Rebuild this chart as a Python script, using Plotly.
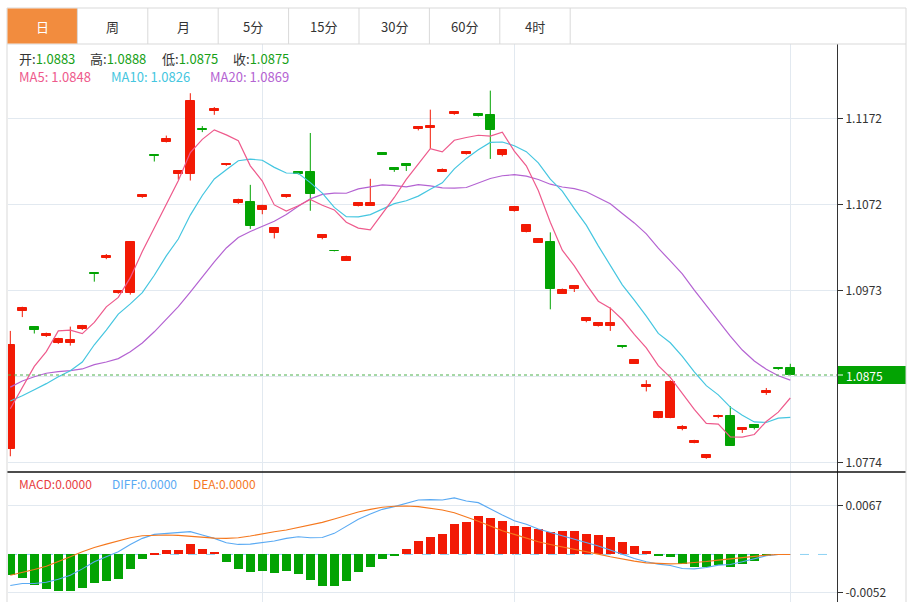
import plotly.graph_objects as go
import pandas as pd

# ---------------- data ----------------
tabs = ["日", "周", "月", "5分", "15分", "30分", "60分", "4时"]

opens = [1.0789, 1.0949, 1.0930, 1.0920, 1.0912, 1.0912, 1.0928, 1.0993, 1.1010, 1.0970,
         1.0970, 1.1081, 1.1129, 1.1145, 1.1107, 1.1107, 1.1160, 1.1181, 1.1118, 1.1074,
         1.1075, 1.1066, 1.1039, 1.1081, 1.1110, 1.1110, 1.1033, 1.1019, 1.1007, 1.1071,
         1.1071, 1.1132, 1.1114, 1.1119, 1.1160, 1.1161, 1.1110, 1.1177, 1.1131, 1.1177,
         1.1176, 1.1130, 1.1065, 1.1040, 1.1028, 1.1029, 1.0969, 1.0975, 1.0937, 1.0932,
         1.0932, 1.0909, 1.0888, 1.0861, 1.0825, 1.0825, 1.0813, 1.0796, 1.0779, 1.0826,
         1.0827, 1.0811, 1.0817, 1.0854, 1.0883, 1.0883]
highs = [1.0926, 1.0954, 1.0931, 1.0924, 1.0918, 1.0931, 1.0933, 1.0993, 1.1015, 1.0973,
         1.1030, 1.1084, 1.1129, 1.1152, 1.1112, 1.1201, 1.1163, 1.1185, 1.1120, 1.1079,
         1.1095, 1.1072, 1.1045, 1.1084, 1.1111, 1.1155, 1.1038, 1.1019, 1.1013, 1.1075,
         1.1102, 1.1132, 1.1115, 1.1119, 1.1162, 1.1182, 1.1114, 1.1180, 1.1134, 1.1178,
         1.1204, 1.1135, 1.1070, 1.1048, 1.1033, 1.1040, 1.0975, 1.0978, 1.0941, 1.0936,
         1.0953, 1.0909, 1.0893, 1.0869, 1.0832, 1.0869, 1.0817, 1.0800, 1.0783, 1.0829,
         1.0839, 1.0814, 1.0817, 1.0860, 1.0884, 1.0888]
lows = [1.0781, 1.0942, 1.0923, 1.0919, 1.0911, 1.0909, 1.0927, 1.0983, 1.1009, 1.0969,
        1.0968, 1.1080, 1.1122, 1.1144, 1.1101, 1.1100, 1.1156, 1.1176, 1.1117, 1.1073,
        1.1044, 1.1061, 1.1033, 1.1080, 1.1107, 1.1065, 1.1032, 1.1018, 1.1007, 1.1070,
        1.1071, 1.1130, 1.1110, 1.1111, 1.1158, 1.1137, 1.1110, 1.1176, 1.1130, 1.1174,
        1.1125, 1.1128, 1.1064, 1.1040, 1.1028, 1.0951, 1.0969, 1.0971, 1.0936, 1.0931,
        1.0926, 1.0906, 1.0888, 1.0856, 1.0825, 1.0825, 1.0811, 1.0796, 1.0778, 1.0825,
        1.0793, 1.0808, 1.0812, 1.0852, 1.0881, 1.0875]
closes = [1.0910, 1.0953, 1.0927, 1.0923, 1.0917, 1.0915, 1.0932, 1.0992, 1.1013, 1.0972,
          1.1029, 1.1083, 1.1128, 1.1148, 1.1111, 1.1192, 1.1159, 1.1183, 1.1119, 1.1077,
          1.1047, 1.1071, 1.1045, 1.1083, 1.1108, 1.1084, 1.1037, 1.1018, 1.1012, 1.1074,
          1.1074, 1.1130, 1.1112, 1.1117, 1.1162, 1.1163, 1.1112, 1.1179, 1.1133, 1.1175,
          1.1158, 1.1135, 1.1069, 1.1048, 1.1032, 1.0975, 1.0973, 1.0978, 1.0941, 1.0935,
          1.0935, 1.0907, 1.0892, 1.0863, 1.0832, 1.0867, 1.0815, 1.0799, 1.0782, 1.0828,
          1.0793, 1.0814, 1.0814, 1.0857, 1.0882, 1.0875]

# moving-average values before a full window is available
ma5_head = [1.0836, 1.0861, 1.0885, 1.0902]
ma10_head = [1.0845, 1.0851, 1.0858, 1.0865, 1.0873, 1.0880, 1.0890, 1.0910, 1.0927]
ma20_head = [1.0861, 1.0868, 1.0873, 1.0877, 1.0879, 1.0880, 1.0882, 1.0887, 1.0890, 1.0894,
             1.0902, 1.0912, 1.0925, 1.0940, 1.0954, 1.0971, 1.0989, 1.1006, 1.1022]

macd_hist = [-0.00285, -0.00317, -0.00414, -0.00469, -0.00501, -0.00501, -0.00464, -0.00386, -0.00358, -0.00340,
             -0.00193, -0.00069, 0.00023, 0.00060, 0.00064, 0.00142, 0.00074, 0.00028, -0.00110, -0.00202,
             -0.00239, -0.00234, -0.00260, -0.00234, -0.00262, -0.00354, -0.00427, -0.00427, -0.00363, -0.00244,
             -0.00170, -0.00064, -0.00018, 0.00074, 0.00184, 0.00234, 0.00280, 0.00418, 0.00441, 0.00524,
             0.00506, 0.00464, 0.00395, 0.00377, 0.00347, 0.00308, 0.00322, 0.00322, 0.00280, 0.00271,
             0.00239, 0.00175, 0.00115, 0.00046, -0.00014, -0.00032, -0.00128, -0.00170, -0.00177, -0.00142,
             -0.00170, -0.00131, -0.00090, -0.00023, -0.00005, 0.00000]
diff_vals = [-0.00427, -0.00400, -0.00400, -0.00381, -0.00340, -0.00285, -0.00198, -0.00101, -0.00032, 0.00037,
             0.00138, 0.00221, 0.00276, 0.00290, 0.00294, 0.00313, 0.00267, 0.00221, 0.00161, 0.00138,
             0.00142, 0.00165, 0.00184, 0.00221, 0.00244, 0.00230, 0.00234, 0.00290, 0.00381, 0.00483,
             0.00556, 0.00620, 0.00657, 0.00703, 0.00749, 0.00754, 0.00749, 0.00777, 0.00735, 0.00712,
             0.00625, 0.00542, 0.00464, 0.00414, 0.00349, 0.00303, 0.00257, 0.00216, 0.00165, 0.00115,
             0.00060, 0.00000, -0.00055, -0.00101, -0.00133, -0.00152, -0.00193, -0.00198, -0.00179, -0.00147,
             -0.00138, -0.00101, -0.00064, -0.00018, 0.00000, 0.00000]
dea_vals = [-0.00285, -0.00248, -0.00207, -0.00161, -0.00101, -0.00032, 0.00037, 0.00097, 0.00142, 0.00188,
            0.00230, 0.00257, 0.00267, 0.00267, 0.00262, 0.00248, 0.00234, 0.00225, 0.00221, 0.00230,
            0.00253, 0.00285, 0.00313, 0.00336, 0.00368, 0.00400, 0.00441, 0.00487, 0.00538, 0.00584,
            0.00620, 0.00648, 0.00662, 0.00666, 0.00657, 0.00639, 0.00611, 0.00574, 0.00519, 0.00455,
            0.00391, 0.00326, 0.00276, 0.00225, 0.00175, 0.00138, 0.00106, 0.00074, 0.00041, 0.00005,
            -0.00032, -0.00064, -0.00092, -0.00115, -0.00124, -0.00129, -0.00124, -0.00115, -0.00097, -0.00078,
            -0.00060, -0.00041, -0.00023, -0.00009, 0.00000, 0.00000]

price_ticks = [1.0774, 1.08735, 1.0973, 1.10725, 1.1172]
price_tick_text = ["1.0774", "", "1.0973", "1.1072", "1.1172"]
macd_ticks = [-0.0052, 0.0067]
macd_tick_text = ["-0.0052", "0.0067"]
grid_x = [21, 42, 65]

# ---------------- styling / geometry ----------------
W, H = 913, 602
ML, MR, MT, MB = 8, 76, 44, 0
PW, PH = W - ML - MR, H - MT - MB
RED = "#F21A05"
GREEN = "#03A303"
GRID = "#E2E9F0"
BORDER = "#D9D9D9"
FONT = "Noto Sans CJK SC, Noto Sans, sans-serif"

C_MA5, C_MA10, C_MA20 = "#EE5A8C", "#45C6E0", "#B463D2"
C_DIFF, C_DEA, C_MACD = "#5AAAF3", "#F5781E", "#E8403F"


def px(xp):
    return (xp - ML) / PW


def py(yp):
    return (H - MB - yp) / PH


n = len(closes)
xs = list(range(n))
x0_pix, step = 10.3, 12.0
x_range = [(ML - x0_pix) / step, (ML + PW - x0_pix) / step]

# price axis mapping
p_ref_top, y_ref_top = 1.1172, 118.3
p_ref_bot, y_ref_bot = 1.0774, 462.3
ppx = (y_ref_bot - y_ref_top) / (p_ref_top - p_ref_bot)
sep_y = 472
y_range = [p_ref_top - (sep_y - y_ref_top) / ppx, p_ref_top + (y_ref_top - MT) / ppx]
split = py(sep_y)

m_top_v, m_top_y = 0.0067, 505.7
m_bot_v, m_bot_y = -0.0052, 592.3
mpx = (m_bot_y - m_top_y) / (m_top_v - m_bot_v)
y2_range = [m_bot_v - (H - MB - m_bot_y) / mpx, m_top_v + (m_top_y - sep_y) / mpx]

up = [c >= o for o, c in zip(opens, closes)]
body_base = [min(o, c) for o, c in zip(opens, closes)]
body_len = [abs(c - o) for o, c in zip(opens, closes)]
body_col = [RED if u else GREEN for u in up]

s = pd.Series(closes)
ma5 = ma5_head + s.rolling(5).mean().tolist()[4:]
ma10 = ma10_head + s.rolling(10).mean().tolist()[9:]
ma20 = ma20_head + s.rolling(20).mean().tolist()[19:]


def wicks(flag):
    wx, wy = [], []
    for i in range(n):
        if up[i] == flag:
            wx += [i, i, None]
            wy += [lows[i], highs[i], None]
    return wx, wy


fig = go.Figure()

# candle bodies
fig.add_trace(go.Bar(x=xs, y=body_len, base=body_base, width=0.72,
                     marker=dict(color=body_col, line=dict(color=body_col, width=1)),
                     xaxis="x", yaxis="y", showlegend=False, hoverinfo="skip"))
for flag, col in ((True, RED), (False, GREEN)):
    wx, wy = wicks(flag)
    fig.add_trace(go.Scatter(x=wx, y=wy, mode="lines", line=dict(color=col, width=1),
                             xaxis="x", yaxis="y", showlegend=False, hoverinfo="skip"))

for vals, col in ((ma20, C_MA20), (ma10, C_MA10), (ma5, C_MA5)):
    fig.add_trace(go.Scatter(x=xs, y=vals, mode="lines", line=dict(color=col, width=1.2),
                             xaxis="x", yaxis="y", showlegend=False, hoverinfo="skip"))

# MACD panel
hist_col = [RED if v > 0 else GREEN for v in macd_hist]
fig.add_trace(go.Bar(x=xs, y=macd_hist, width=0.72, marker=dict(color=hist_col, line=dict(width=0)),
                     xaxis="x", yaxis="y2", showlegend=False, hoverinfo="skip"))
fig.add_trace(go.Scatter(x=xs, y=diff_vals, mode="lines", line=dict(color=C_DIFF, width=1.1),
                         xaxis="x", yaxis="y2", showlegend=False, hoverinfo="skip"))
fig.add_trace(go.Scatter(x=xs, y=dea_vals, mode="lines", line=dict(color=C_DEA, width=1.1),
                         xaxis="x", yaxis="y2", showlegend=False, hoverinfo="skip"))

shapes = []
annotations = []

# zero line of MACD and last-price dotted line
shapes.append(dict(type="line", xref="paper", yref="y2", x0=0, x1=px(834), y0=0, y1=0,
                   line=dict(color="#8ED3F4", width=1, dash="dash"), layer="below"))
last = closes[-1]
shapes.append(dict(type="line", xref="paper", yref="y", x0=0, x1=1, y0=last, y1=last,
                   line=dict(color="#4DB04D", width=1, dash="dot")))
# last price label
shapes.append(dict(type="rect", xref="paper", yref="y", x0=px(838), x1=px(906),
                   y0=last - 9 / ppx, y1=last + 9 / ppx, fillcolor=GREEN, line=dict(width=0)))
shapes.append(dict(type="line", xref="paper", yref="y", x0=px(838), x1=px(843),
                   y0=last, y1=last, line=dict(color="white", width=1)))
annotations.append(dict(xref="paper", yref="y", x=px(844), y=last, xanchor="left", yanchor="middle",
                        text=f"{last:.4f}", showarrow=False, font=dict(color="white", size=12, family=FONT)))

# separator between panels
shapes.append(dict(type="line", xref="paper", yref="paper", x0=px(7), x1=px(906), y0=split, y1=split,
                   line=dict(color="#111111", width=1.3)))
# outer frame
for (a, b, c, d) in ((7, 8, 7, H), (906, 8, 906, H), (7, 8, 906, 8), (7, 44, 906, 44)):
    shapes.append(dict(type="line", xref="paper", yref="paper", x0=px(a), x1=px(c), y0=py(b), y1=py(d),
                       line=dict(color=BORDER, width=1)))

# tabs
tab_w = 70.4
shapes.append(dict(type="rect", xref="paper", yref="paper", x0=px(7.5), x1=px(7 + tab_w), y0=py(43.5), y1=py(8.5),
                   fillcolor="#F28C3E", line=dict(width=0)))
for i in range(1, len(tabs) + 1):
    xb = 7 + tab_w * i
    shapes.append(dict(type="line", xref="paper", yref="paper", x0=px(xb), x1=px(xb), y0=py(8), y1=py(44),
                       line=dict(color=BORDER, width=1)))
for i, t in enumerate(tabs):
    annotations.append(dict(xref="paper", yref="paper", x=px(7 + tab_w * (i + 0.5)), y=py(26),
                            xanchor="center", yanchor="middle", text=t, showarrow=False,
                            font=dict(size=13, family=FONT, color="white" if i == 0 else "#333333")))

# legends
val_green = "#17A017"
ohlc_items = [("开", opens[-1], 17), ("高", highs[-1], 88), ("低", lows[-1], 160), ("收", closes[-1], 231)]
for lab, v, xp in ohlc_items:
    annotations.append(dict(xref="paper", yref="paper", x=px(xp), y=py(59), xanchor="left", yanchor="middle",
                            showarrow=False, font=dict(size=13, family=FONT, color="#333333"),
                            text=f"{lab}:<span style='color:{val_green}'>{v:.4f}</span>"))
ma_items = [("MA5", ma5[-1], C_MA5, 17), ("MA10", ma10[-1], C_MA10, 109), ("MA20", ma20[-1], C_MA20, 208)]
for lab, v, col, xp in ma_items:
    annotations.append(dict(xref="paper", yref="paper", x=px(xp), y=py(77), xanchor="left", yanchor="middle",
                            showarrow=False, font=dict(size=13, family=FONT, color=col),
                            text=f"{lab}: {v:.4f}"))
macd_items = [("MACD", C_MACD, 17), ("DIFF", C_DIFF, 110), ("DEA", C_DEA, 191)]
for lab, col, xp in macd_items:
    annotations.append(dict(xref="paper", yref="paper", x=px(xp), y=py(483), xanchor="left", yanchor="middle",
                            showarrow=False, font=dict(size=12, family=FONT, color=col),
                            text=f"{lab}:{0:.4f}"))

fig.update_layout(
    width=W, height=H,
    margin=dict(l=ML, r=MR, t=MT, b=MB, pad=0),
    paper_bgcolor="white", plot_bgcolor="white",
    barmode="overlay", bargap=0,
    showlegend=False,
    font=dict(family=FONT, size=12, color="#333333"),
    xaxis=dict(domain=[0, 1], range=x_range, anchor="y", tickvals=grid_x, showticklabels=False,
               showgrid=True, gridcolor=GRID, gridwidth=1, zeroline=False, showline=False, ticks="",
               fixedrange=True),
    yaxis=dict(domain=[split, 1], range=y_range, side="right", anchor="x", tickvals=price_ticks,
               ticktext=price_tick_text, showgrid=True, gridcolor=GRID, zeroline=False,
               showline=True, linecolor="#333333", linewidth=1, ticks="outside", ticklen=5,
               tickcolor="#333333", tickfont=dict(size=12, family=FONT, color="#333333"),
               automargin=False),
    yaxis2=dict(domain=[0, split], range=y2_range, side="right", anchor="x", tickvals=macd_ticks,
                ticktext=macd_tick_text, showgrid=True, gridcolor=GRID, zeroline=False,
                showline=True, linecolor="#333333", linewidth=1, ticks="outside", ticklen=5,
                tickcolor="#333333", tickfont=dict(size=12, family=FONT, color="#333333"),
                automargin=False),
    shapes=shapes,
    annotations=annotations,
)

fig.write_html("out.html", config={"displayModeBar": False},
               post_script="document.body.style.margin='0px';document.body.style.overflow='hidden';")
